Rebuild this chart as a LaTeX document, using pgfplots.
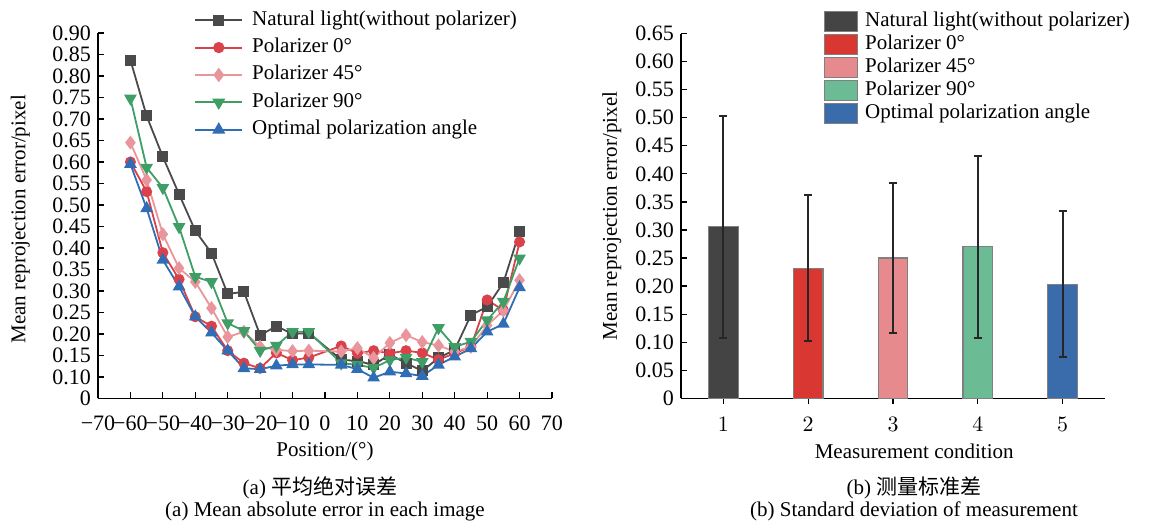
\documentclass[border=0pt]{standalone}
\usepackage{fontspec}
\setmainfont{Liberation Serif}
\newfontfamily\cjk{Noto Sans CJK SC}
\usepackage{pgfplots}
\pgfplotsset{compat=1.18}

% line colours (left panel)
\definecolor{cNat}{HTML}{4A4A4A}
\definecolor{cP0}{HTML}{D9424A}
\definecolor{cP45}{HTML}{E8969B}
\definecolor{cP90}{HTML}{3E9E66}
\definecolor{cOpt}{HTML}{2F6DB5}
% bar fills (right panel)
\definecolor{bNat}{HTML}{444444}
\definecolor{bP0}{HTML}{D93732}
\definecolor{bP45}{HTML}{E68A8E}
\definecolor{bP90}{HTML}{6BBB94}
\definecolor{bOpt}{HTML}{3A6BAA}

\pgfplotsset{
  common/.style={
    scale only axis,
    axis x line*=bottom, axis y line*=left,
    tick align=inside, major tick length=3pt,
    tick style={black, line width=0.6pt},
    axis line style={line width=0.7pt},
    tick label style={font=\fontsize{11}{12}\selectfont},
    label style={font=\fontsize{10.5}{12}\selectfont},
    xticklabel style={yshift=-5pt},
    legend style={draw=none, fill=none, font=\fontsize{10.5}{12}\selectfont,
      nodes={inner sep=1pt, text height=7.5pt, text depth=2.5pt}},
  },
  ln/.style={line width=0.9pt, mark options={solid}},
}

\begin{document}
\begin{tikzpicture}
\useasboundingbox (0,0) rectangle (1164*0.5pt,-525*0.5pt);

% ---------- (a) mean absolute error ----------
\begin{axis}[common,
  at={(98*0.5pt,-398.4*0.5pt)}, anchor=south west,
  width=227pt, height=182.7pt,
  xmin=-70, xmax=70, ymin=0.05, ymax=0.90,
  xtick={-70,-60,-50,-40,-30,-20,-10,0,10,20,30,40,50,60,70},
  xticklabels={−70,−60,−50,−40,−30,−20,−10,0,10,20,30,40,50,60,70},
  ytick={0.05,0.10,0.15,0.20,0.25,0.30,0.35,0.40,0.45,0.50,0.55,0.60,0.65,0.70,0.75,0.80,0.85,0.90},
  yticklabels={0,0.10,0.15,0.20,0.25,0.30,0.35,0.40,0.45,0.50,0.55,0.60,0.65,0.70,0.75,0.80,0.85,0.90},
  xlabel={Position/(°)},
  xlabel style={at={(axis description cs:0.5,0)}, anchor=center, yshift=-26.5pt},
  ylabel={Mean reprojection error/pixel},
  ylabel style={at={(axis description cs:-0.171,0.49)}, anchor=center},
  legend style={at={(0.198,1.08)}, anchor=north west, row sep=1.7pt},
  legend cell align=left,
  legend image code/.code={\draw[mark repeat=2,mark phase=2,line width=1pt] plot coordinates {(0pt,0pt)(11.75pt,0pt)(23.5pt,0pt)}; \path (27pt,0pt);},
]
\addplot[ln, cNat, mark=square*, mark size=2.3pt] coordinates {
 (-60,0.837)(-55,0.707)(-50,0.612)(-45,0.525)(-40,0.440)(-35,0.388)(-30,0.293)(-25,0.298)
 (-20,0.197)(-15,0.218)(-10,0.200)(-5,0.202)(5,0.140)(10,0.137)(15,0.128)(20,0.152)
 (25,0.132)(30,0.114)(35,0.144)(40,0.163)(45,0.244)(50,0.263)(55,0.319)(60,0.438)};
\addplot[ln, cP0, mark=*, mark size=2.3pt] coordinates {
 (-60,0.600)(-55,0.531)(-50,0.389)(-45,0.327)(-40,0.240)(-35,0.218)(-30,0.161)(-25,0.132)
 (-20,0.120)(-15,0.156)(-10,0.139)(-5,0.145)(5,0.172)(10,0.155)(15,0.161)(20,0.155)
 (25,0.161)(30,0.156)(35,0.140)(40,0.155)(45,0.170)(50,0.279)(55,0.255)(60,0.414)};
\addplot[ln, cP45, mark=diamond*, mark size=2.8pt] coordinates {
 (-60,0.645)(-55,0.558)(-50,0.432)(-45,0.353)(-40,0.321)(-35,0.260)(-30,0.193)(-25,0.205)
 (-20,0.170)(-15,0.163)(-10,0.160)(-5,0.161)(5,0.159)(10,0.167)(15,0.144)(20,0.179)
 (25,0.197)(30,0.181)(35,0.173)(40,0.159)(45,0.170)(50,0.220)(55,0.254)(60,0.325)};
\addplot[ln, cP90, mark=triangle*, mark size=2.8pt, mark options={rotate=180}] coordinates {
 (-60,0.748)(-55,0.587)(-50,0.540)(-45,0.449)(-40,0.333)(-35,0.321)(-30,0.225)(-25,0.207)
 (-20,0.161)(-15,0.173)(-10,0.205)(-5,0.205)(5,0.132)(10,0.128)(15,0.121)(20,0.139)
 (25,0.145)(30,0.135)(35,0.214)(40,0.170)(45,0.182)(50,0.232)(55,0.275)(60,0.376)};
\addplot[ln, cOpt, mark=triangle*, mark size=2.8pt] coordinates {
 (-60,0.595)(-55,0.492)(-50,0.372)(-45,0.310)(-40,0.240)(-35,0.203)(-30,0.161)(-25,0.120)
 (-20,0.118)(-15,0.126)(-10,0.129)(-5,0.129)(5,0.128)(10,0.118)(15,0.098)(20,0.112)
 (25,0.108)(30,0.102)(35,0.128)(40,0.147)(45,0.166)(50,0.205)(55,0.223)(60,0.308)};
\legend{Natural light(without polarizer), Polarizer 0°, Polarizer 45°, Polarizer 90°, Optimal polarization angle}
\end{axis}

% ---------- (b) standard deviation ----------
\begin{axis}[common,
  at={(681*0.5pt,-398.3*0.5pt)}, anchor=south west,
  width=212pt, height=182.35pt,
  xmin=0.5, xmax=5.5, ymin=0, ymax=0.65,
  xtick={1,2,3,4,5},
  ytick={0,0.05,0.10,0.15,0.20,0.25,0.30,0.35,0.40,0.45,0.50,0.55,0.60,0.65},
  yticklabels={0,0.05,0.10,0.15,0.20,0.25,0.30,0.35,0.40,0.45,0.50,0.55,0.60,0.65},
  xticklabel style={yshift=2pt},
  xlabel={Measurement condition},
  xlabel style={at={(axis description cs:0.55,0)}, anchor=center, yshift=-26.5pt},
  ylabel={Mean reprojection error/pixel},
  ylabel style={at={(axis description cs:-0.163,0.5)}, anchor=center},
  ybar, bar width=0.35, bar shift=0pt,
  legend style={at={(0.322,1.078)}, anchor=north west, row sep=-0.5pt},
  legend cell align=left,
  legend image code/.code={\draw[#1] (0pt,-5pt) rectangle (16.5pt,5pt); \path (19pt,0pt);},
  every axis plot/.append style={draw=black!50, line width=0.6pt},
  error bars/error bar style={black!85, line width=1pt},
  error bars/error mark options={rotate=90, mark size=2pt, line width=1pt, black!85},
]
\addplot[fill=bNat, error bars/.cd, y dir=both, y explicit] coordinates {(1,0.306) +- (0,0.198)};
\addplot[fill=bP0, error bars/.cd, y dir=both, y explicit] coordinates {(2,0.232) +- (0,0.130)};
\addplot[fill=bP45, error bars/.cd, y dir=both, y explicit] coordinates {(3,0.250) +- (0,0.133)};
\addplot[fill=bP90, error bars/.cd, y dir=both, y explicit] coordinates {(4,0.270) +- (0,0.162)};
\addplot[fill=bOpt, error bars/.cd, y dir=both, y explicit] coordinates {(5,0.203) +- (0,0.130)};
\legend{Natural light(without polarizer), Polarizer 0°, Polarizer 45°, Polarizer 90°, Optimal polarization angle}
\end{axis}

% captions
\node[font=\fontsize{10.5}{12}\selectfont] at (320*0.5pt,-488*0.5pt) {(a) {\cjk 平均绝对误差}};
\node[font=\fontsize{10.5}{12}\selectfont] at (325*0.5pt,-511*0.5pt) {(a) Mean absolute error in each image};
\node[font=\fontsize{10.5}{12}\selectfont] at (914*0.5pt,-488*0.5pt) {(b) {\cjk 测量标准差}};
\node[font=\fontsize{10.5}{12}\selectfont] at (914*0.5pt,-511*0.5pt) {(b) Standard deviation of measurement};
\end{tikzpicture}
\end{document}
